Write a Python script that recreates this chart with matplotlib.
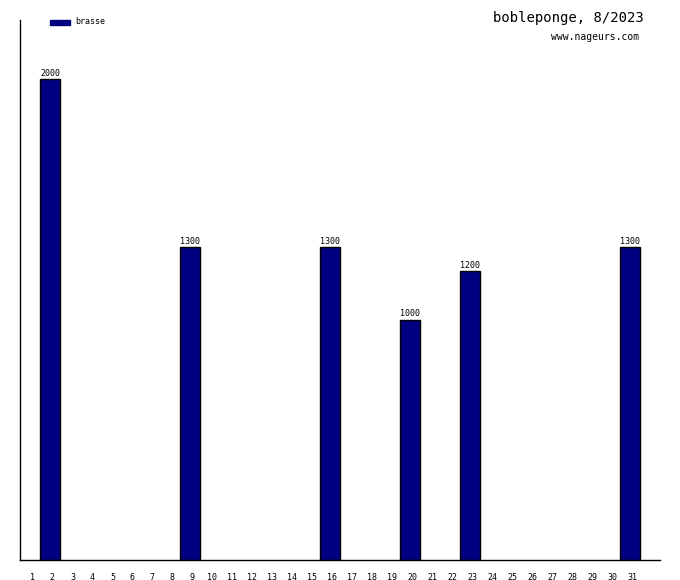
import matplotlib
matplotlib.use('Agg')
import matplotlib.pyplot as plt
from matplotlib.patches import Rectangle

days = list(range(1, 32))
bar_days = [2, 9, 16, 20, 23, 31]
distances = [2000, 1300, 1300, 1000, 1200, 1300]
series_name = 'brasse'
title = 'bobleponge, 8/2023'
site = 'www.nageurs.com'

W, H = 680, 580
fig = plt.figure(figsize=(W / 100, H / 100), dpi=100)
ax = fig.add_axes([20 / W, 20 / H, 640 / W, 540 / H])

ax.bar(bar_days, distances, width=1.0, color='#000080', edgecolor='black', linewidth=1)
for d, v in zip(bar_days, distances):
    ax.text(d, v + 5, str(v), ha='center', va='bottom', fontsize=6,
            family='DejaVu Sans Mono')

ax.set_xlim(0.5, 32.5)
ax.set_ylim(0, 2000 * 540 / 481)
ax.spines['top'].set_visible(False)
ax.spines['right'].set_visible(False)
ax.spines['left'].set_linewidth(1)
ax.spines['bottom'].set_linewidth(1)
ax.set_yticks([])
# labels sit slightly right of the bar centres
ax.set_xticks([d + 0.12 for d in days])
ax.set_xticklabels([str(d) for d in days], fontsize=6, family='DejaVu Sans Mono')
ax.tick_params(axis='x', length=0, pad=9)

# legend
fig.patches.append(Rectangle((50 / W, 1 - 25 / H), 20 / W, 5 / H,
                             transform=fig.transFigure, color='#000080'))
fig.text(75 / W, 1 - 22 / H, series_name, fontsize=6, va='center',
         family='DejaVu Sans Mono')

fig.text(644 / W, 1 - 18 / H, title, fontsize=10, ha='right', va='center',
         family='DejaVu Sans Mono')
fig.text(639 / W, 1 - 37 / H, site, fontsize=7, ha='right', va='center',
         family='DejaVu Sans Mono')

fig.savefig('out.png', dpi=100)
